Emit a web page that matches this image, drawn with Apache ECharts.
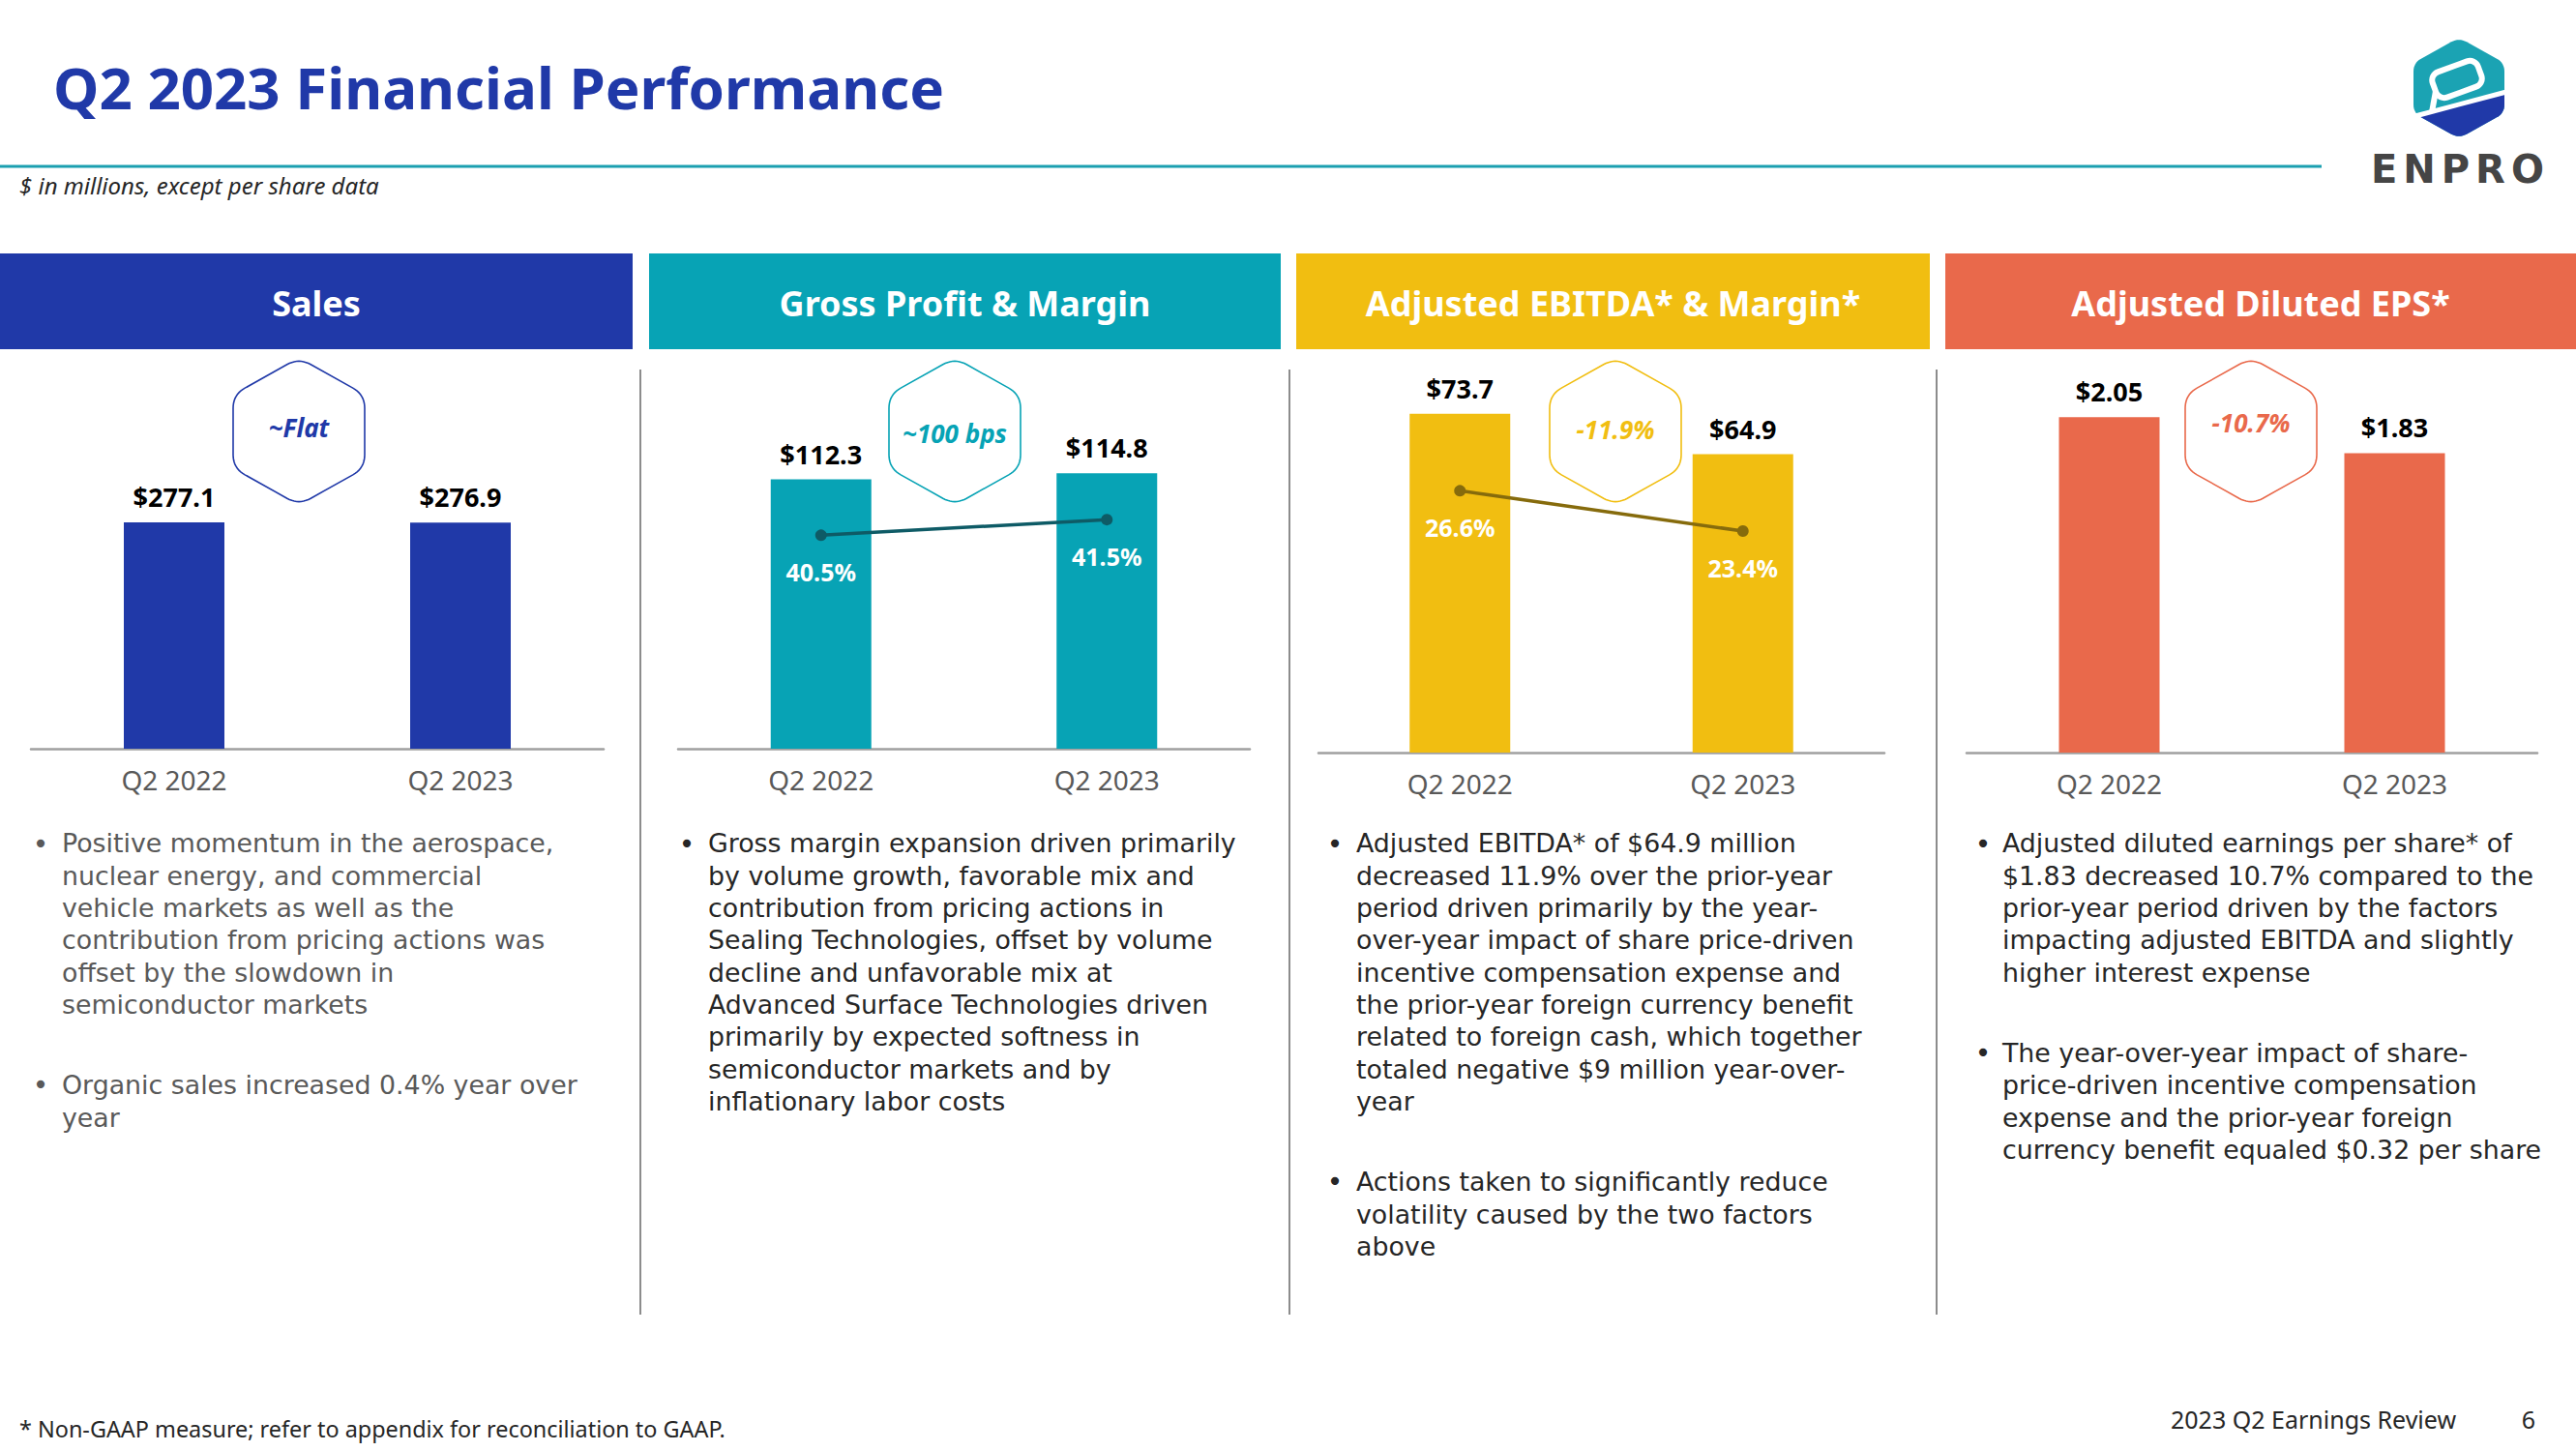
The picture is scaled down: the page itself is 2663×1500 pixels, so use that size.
<!DOCTYPE html>
<html><head><meta charset="utf-8">
<script src="https://cdn.jsdelivr.net/npm/echarts/dist/echarts.min.js"></script>
<style>
html,body{margin:0;padding:0;background:#fff;}
#c{position:absolute;left:0;top:0;width:2663px;height:1500px;}
#logoText{position:absolute;left:2451px;top:155px;font-family:'DejaVu Sans',sans-serif;font-weight:bold;font-size:40px;line-height:40px;letter-spacing:6px;color:#454545;z-index:5;}
</style>
</head><body>
<div id="c"></div>
<div id="logoText">ENPRO</div>
<script>
// ---------------- DATA ----------------
const categories = ['Q2 2022', 'Q2 2023'];
const salesValues = [277.1, 276.9];
const grossProfitValues = [112.3, 114.8];
const grossMarginValues = [40.5, 41.5];
const ebitdaValues = [73.7, 64.9];
const ebitdaMarginValues = [26.6, 23.4];
const epsValues = [2.05, 1.83];
const changeLabels = ['~Flat', '~100 bps', '-11.9%', '-10.7%'];
const panelTitles = ['Sales', 'Gross Profit & Margin', 'Adjusted EBITDA* & Margin*', 'Adjusted Diluted EPS*'];
const pageTitle = 'Q2 2023 Financial Performance';
const subTitle = '$ in millions, except per share data';
const footNote = '* Non-GAAP measure; refer to appendix for reconciliation to GAAP.';
const footRight = '2023 Q2 Earnings Review';
const pageNumber = '6';
const salesNotes = [
  ['Positive momentum in the aerospace,', 'nuclear energy, and commercial', 'vehicle markets as well as the', 'contribution from pricing actions was', 'offset by the slowdown in', 'semiconductor markets'],
  ['Organic sales increased 0.4% year over', 'year']
];
const grossProfitNotes = [
  ['Gross margin expansion driven primarily', 'by volume growth, favorable mix and', 'contribution from pricing actions in', 'Sealing Technologies, offset by volume', 'decline and unfavorable mix at', 'Advanced Surface Technologies driven', 'primarily by expected softness in', 'semiconductor markets and by', 'inflationary labor costs']
];
const ebitdaNotes = [
  ['Adjusted EBITDA* of $64.9 million', 'decreased 11.9% over the prior-year', 'period driven primarily by the year-', 'over-year impact of share price-driven', 'incentive compensation expense and', 'the prior-year foreign currency benefit', 'related to foreign cash, which together', 'totaled negative $9 million year-over-', 'year'],
  ['Actions taken to significantly reduce', 'volatility caused by the two factors', 'above']
];
const epsNotes = [
  ['Adjusted diluted earnings per share* of', '$1.83 decreased 10.7% compared to the', 'prior-year period driven by the factors', 'impacting adjusted EBITDA and slightly', 'higher interest expense'],
  ['The year-over-year impact of share-', 'price-driven incentive compensation', 'expense and the prior-year foreign', 'currency benefit equaled $0.32 per share']
];
const allNotes = [salesNotes, grossProfitNotes, ebitdaNotes, epsNotes];

// ---------------- STYLE / LAYOUT ----------------
const FONT = "'Noto Sans', sans-serif";
const BODY_FONT = "'DejaVu Sans', sans-serif";
const C = { blue: '#2039A8', teal: '#07A3B5', yellow: '#F1BE11', orange: '#E9694B' };
const panelColors = [C.blue, C.teal, C.yellow, C.orange];
const hexTextColors = [C.blue, C.teal, C.yellow, C.orange];
const noteColors = ['#595959', '#262626', '#262626', '#262626'];
const L = [
  { x0: 0, x1: 654, gl: 32, gw: 592, axisY: 774, yMax: 466.6, hexX: 309, hexTY: 442, tx: 64, bx: 42 },
  { x0: 671, x1: 1324, gl: 701, gw: 591, axisY: 774, yMax: 158.9, hexX: 987, hexTY: 448, tx: 732, bx: 710 },
  { x0: 1340, x1: 1995, gl: 1363, gw: 585, axisY: 778, yMax: 83.75, hexX: 1670, hexTY: 444, tx: 1402, bx: 1380 },
  { x0: 2011, x1: 2663, gl: 2033, gw: 590, axisY: 778, yMax: 2.353, hexX: 2327, hexTY: 437, tx: 2070, bx: 2050 }
];
const GRID_TOP = 380;

function roundedHex(cx, cy, hw, hh, r, steps) {
  const v = [[cx, cy - hh], [cx + hw, cy - hh / 2], [cx + hw, cy + hh / 2], [cx, cy + hh], [cx - hw, cy + hh / 2], [cx - hw, cy - hh / 2]];
  const pts = [];
  for (let i = 0; i < 6; i++) {
    const p = v[i], pr = v[(i + 5) % 6], nx = v[(i + 1) % 6];
    const d1 = [pr[0] - p[0], pr[1] - p[1]], l1 = Math.hypot(d1[0], d1[1]);
    const d2 = [nx[0] - p[0], nx[1] - p[1]], l2 = Math.hypot(d2[0], d2[1]);
    const a = [p[0] + d1[0] / l1 * r, p[1] + d1[1] / l1 * r];
    const b = [p[0] + d2[0] / l2 * r, p[1] + d2[1] / l2 * r];
    for (let k = 0; k <= steps; k++) {
      const t = k / steps;
      pts.push([(1 - t) * (1 - t) * a[0] + 2 * (1 - t) * t * p[0] + t * t * b[0],
                (1 - t) * (1 - t) * a[1] + 2 * (1 - t) * t * p[1] + t * t * b[1]]);
    }
  }
  return pts;
}
function clipBelow(pts, p1, p2) {
  const side = p => (p2[0] - p1[0]) * (p[1] - p1[1]) - (p2[1] - p1[1]) * (p[0] - p1[0]);
  const out = [];
  for (let i = 0; i < pts.length; i++) {
    const a = pts[i], b = pts[(i + 1) % pts.length];
    const sa = side(a), sb = side(b);
    if (sa >= 0) out.push(a);
    if ((sa >= 0) !== (sb >= 0)) {
      const t = sa / (sa - sb);
      out.push([a[0] + t * (b[0] - a[0]), a[1] + t * (b[1] - a[1])]);
    }
  }
  return out;
}

// ---------------- GRAPHIC ----------------
const graphic = [];
graphic.push({ type: 'text', x: 55, y: 90, style: { text: pageTitle, font: `bold 60px ${FONT}`, fill: C.blue, textVerticalAlign: 'middle' } });
graphic.push({ type: 'line', shape: { x1: 0, y1: 172, x2: 2400, y2: 172 }, style: { stroke: '#1B9FB0', lineWidth: 3 } });
graphic.push({ type: 'text', x: 20, y: 191, style: { text: subTitle, font: `italic 24px ${FONT}`, fill: '#262626', textVerticalAlign: 'middle' } });

// logo
const lhex = roundedHex(2542, 91, 47, 52, 9, 8);
graphic.push({ type: 'polygon', shape: { points: lhex }, style: { fill: '#1BA3B3' } });
graphic.push({ type: 'polygon', shape: { points: clipBelow(lhex, [2495, 121], [2589, 96]) }, style: { fill: C.blue } });
graphic.push({ type: 'polyline', shape: { points: [[2493, 121], [2591, 95]] }, style: { stroke: '#fff', lineWidth: 5 } });
graphic.push({ type: 'rect', x: 2540, y: 82, originX: 0, originY: 0, rotation: 0.35,
  shape: { x: -25, y: -14, width: 50, height: 28, r: 9 }, style: { fill: '#1BA3B3', stroke: '#fff', lineWidth: 6 } });
graphic.push({ type: 'polyline', shape: { points: [[2518, 94], [2514, 116]] }, style: { stroke: '#fff', lineWidth: 6 } });

// headers, separators, badges, notes
L.forEach((p, i) => {
  graphic.push({ type: 'rect', shape: { x: p.x0, y: 262, width: p.x1 - p.x0, height: 99 }, style: { fill: panelColors[i] } });
  graphic.push({ type: 'text', x: (p.x0 + p.x1) / 2, y: 313, style: { text: panelTitles[i], font: `bold 36px ${FONT}`, fill: '#fff', textAlign: 'center', textVerticalAlign: 'middle' } });
  graphic.push({ type: 'polygon', shape: { points: roundedHex(p.hexX, 446, 68, 76, 14, 10) }, style: { fill: '#fff', stroke: panelColors[i], lineWidth: 1.6 } });
  graphic.push({ type: 'text', x: p.hexX, y: p.hexTY, style: { text: changeLabels[i], font: `italic bold 26px ${FONT}`, fill: hexTextColors[i], textAlign: 'center', textVerticalAlign: 'middle' } });
  let lineIdx = 0;
  allNotes[i].forEach(par => {
    const cy = 872 + lineIdx * 33.33;
    graphic.push({ type: 'text', x: p.bx, y: cy, style: { text: '\u2022', font: `28px ${BODY_FONT}`, fill: noteColors[i], textAlign: 'center', textVerticalAlign: 'middle' } });
    graphic.push({ type: 'text', x: p.tx, y: cy - 16.67, style: { text: par.join('\n'), font: `26.8px ${BODY_FONT}`, lineHeight: 33.33, fill: noteColors[i], textVerticalAlign: 'top' } });
    lineIdx += par.length + 1.5;
  });
});
[662, 1333, 2002].forEach(x => {
  graphic.push({ type: 'line', shape: { x1: x, y1: 382, x2: x, y2: 1359 }, style: { stroke: '#8c8c8c', lineWidth: 2 } });
});
graphic.push({ type: 'text', x: 20, y: 1477, style: { text: footNote, font: `23.4px ${FONT}`, fill: '#262626', textVerticalAlign: 'middle' } });
graphic.push({ type: 'text', x: 2244, y: 1467, style: { text: footRight, font: `25px ${FONT}`, fill: '#262626', textVerticalAlign: 'middle' } });
graphic.push({ type: 'text', x: 2614, y: 1467, style: { text: pageNumber, font: `25px ${FONT}`, fill: '#262626', textAlign: 'center', textVerticalAlign: 'middle' } });

// ---------------- CHART ----------------
const grids = L.map(p => ({ left: p.gl, width: p.gw, top: GRID_TOP, height: p.axisY - GRID_TOP, containLabel: false }));
const xAxes = L.map((p, i) => ({
  type: 'category', gridIndex: i, data: categories,
  axisTick: { show: false },
  axisLine: { show: true, lineStyle: { color: '#a0a0a0', width: 2.5 } },
  axisLabel: { color: '#595959', fontSize: 28, fontFamily: FONT, margin: 18 },
  splitLine: { show: false }
}));
const yAxes = [
  { gridIndex: 0, type: 'value', min: 0, max: L[0].yMax, show: false },
  { gridIndex: 1, type: 'value', min: 0, max: L[1].yMax, show: false },
  { gridIndex: 1, type: 'value', min: 26.88, max: 51.2, show: false },
  { gridIndex: 2, type: 'value', min: 0, max: L[2].yMax, show: false },
  { gridIndex: 2, type: 'value', min: 5.83, max: 36.37, show: false },
  { gridIndex: 3, type: 'value', min: 0, max: L[3].yMax, show: false }
];
function barSeries(data, xi, yi, color, dec) {
  return {
    type: 'bar', xAxisIndex: xi, yAxisIndex: yi, data: data, barWidth: 104,
    itemStyle: { color: color },
    label: { show: true, position: 'top', distance: 13, color: '#000', fontWeight: 'bold', fontSize: 27, fontFamily: FONT,
      formatter: pr => '$' + pr.value.toFixed(dec) }
  };
}
function lineSeries(data, xi, yi, color) {
  return {
    type: 'line', xAxisIndex: xi, yAxisIndex: yi, data: data, z: 5,
    symbol: 'circle', symbolSize: 12,
    lineStyle: { color: color, width: 3.5 }, itemStyle: { color: color },
    label: { show: true, position: 'bottom', distance: 19, color: '#fff', fontWeight: 'bold', fontSize: 25, fontFamily: FONT,
      formatter: pr => pr.value.toFixed(1) + '%' }
  };
}
const option = {
  animation: false,
  backgroundColor: '#fff',
  grid: grids, xAxis: xAxes, yAxis: yAxes,
  series: [
    barSeries(salesValues, 0, 0, C.blue, 1),
    barSeries(grossProfitValues, 1, 1, C.teal, 1),
    lineSeries(grossMarginValues, 1, 2, '#0E5B66'),
    barSeries(ebitdaValues, 2, 3, C.yellow, 1),
    lineSeries(ebitdaMarginValues, 2, 4, '#866B0C'),
    barSeries(epsValues, 3, 5, C.orange, 2)
  ],
  graphic: { elements: graphic }
};
const chart = echarts.init(document.getElementById('c'), null, { renderer: 'svg', width: 2663, height: 1500 });
chart.setOption(option);
</script>
</body></html>
